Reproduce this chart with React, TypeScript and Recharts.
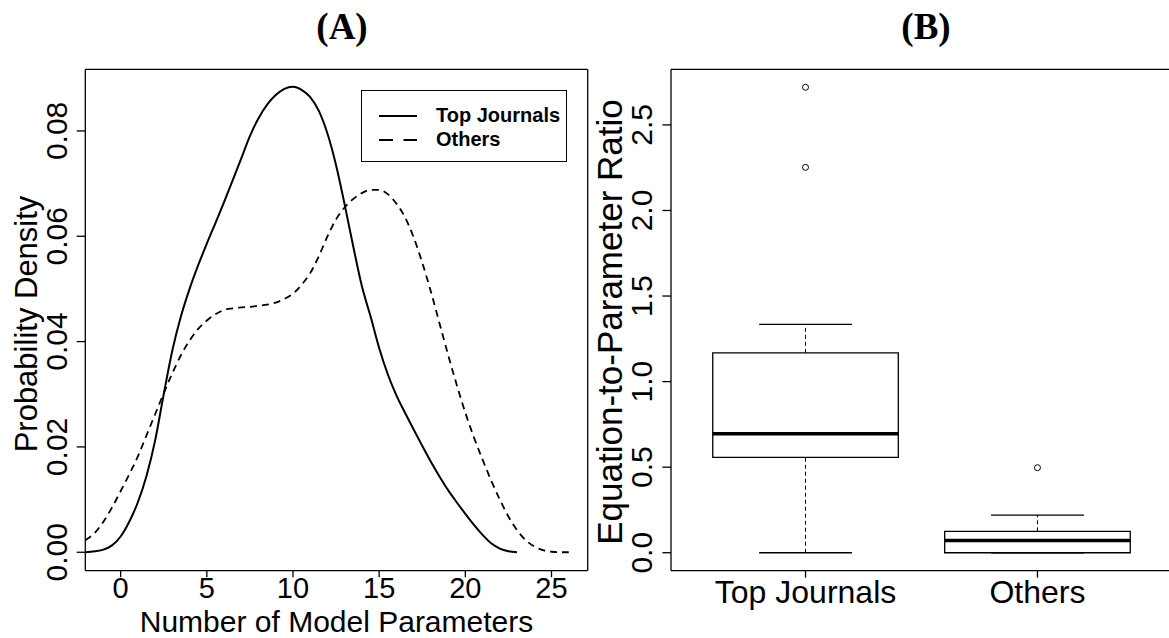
import React from "react";
import {
  ComposedChart,
  LineChart,
  Line,
  XAxis,
  YAxis,
  Legend,
  Label,
  ReferenceArea,
  ReferenceLine,
  Scatter,
} from "recharts";

const SANS = "'Liberation Sans', Arial, Helvetica, sans-serif";
const SERIF = "'Liberation Serif', 'Times New Roman', serif";

// (A) density curves on a 0.5 grid
const paramGrid = [
  -2.05, -1.5, -1, -0.5, 0, 0.5, 1, 1.5, 2, 2.5, 3, 3.5, 4, 4.5, 5, 5.5, 6, 6.5,
  7, 7.5, 8, 8.5, 9, 9.5, 10, 10.5, 11, 11.5, 12, 12.5, 13, 13.5, 14, 14.5, 15,
  15.5, 16, 16.5, 17, 17.5, 18, 18.5, 19, 19.5, 20, 20.5, 21, 21.5, 22, 22.5, 23,
  23.5, 24, 24.5, 25, 25.5, 26,
];
const topJournalsDensity = [
  0, 0.0002, 0.0005, 0.0013, 0.003, 0.0058, 0.0095, 0.0145, 0.0212, 0.03, 0.0383,
  0.0448, 0.05, 0.0545, 0.0586, 0.0625, 0.0665, 0.0706, 0.0748, 0.079, 0.0824,
  0.085, 0.0868, 0.088, 0.0884, 0.0878, 0.0864, 0.0838, 0.0795, 0.0735, 0.066,
  0.058, 0.0505, 0.0448, 0.0388, 0.0338, 0.0298, 0.0265, 0.0233, 0.0202, 0.0172,
  0.0144, 0.0118, 0.0095, 0.0073, 0.0052, 0.0033, 0.0017, 0.0007, 0.0002, 0,
  null, null, null, null, null, null,
];
const othersDensity = [
  0.0023, 0.0037, 0.0058, 0.0085, 0.0116, 0.0148, 0.0182, 0.0222, 0.0262, 0.0302,
  0.034, 0.0374, 0.0402, 0.0424, 0.044, 0.0452, 0.046, 0.0463, 0.0465, 0.0466,
  0.0468, 0.047, 0.0474, 0.0481, 0.0491, 0.0508, 0.053, 0.0562, 0.06, 0.0632,
  0.0655, 0.0671, 0.0682, 0.0688, 0.0688, 0.068, 0.0662, 0.0636, 0.0598, 0.055,
  0.0495, 0.0435, 0.0375, 0.0318, 0.0265, 0.0218, 0.0176, 0.0136, 0.01, 0.0068,
  0.0042, 0.0023, 0.0011, 0.0004, 0.0001, 0, 0,
];
const seriesNames = ["Top Journals", "Others"];
const paramTicks = [0, 5, 10, 15, 20, 25];
const densityTicks = [0, 0.02, 0.04, 0.06, 0.08];

// (B) box plot summaries
const groups = ["Top Journals", "Others"];
const whiskerLow = [0, 0];
const quartile1 = [0.557, 0];
const medians = [0.695, 0.071];
const quartile3 = [1.168, 0.125];
const whiskerHigh = [1.334, 0.22];
const outliers = [[2.252, 2.72], [0.497]];
const groupTicks = [1, 2];
const ratioTicks = [0, 0.5, 1, 1.5, 2, 2.5];

const densityRows = paramGrid.map((x, i) => ({
  x,
  top: topJournalsDensity[i],
  others: othersDensity[i],
}));
const outlierPoints = groups.flatMap((_, i) =>
  outliers[i].map((v) => ({ x: i + 1, y: v }))
);

const DASH = "7 5";
const LEGEND_DASH = "14 10.5";
const AXIS_LINE = { stroke: "#000", strokeWidth: 1.3 };
const X_DOMAIN_A: [number, number] = [-2.05, 27.1];
const Y_DOMAIN_A: [number, number] = [-0.0035, 0.0917];
const X_DOMAIN_B: [number, number] = [0.42, 2.58];
const Y_DOMAIN_B: [number, number] = [-0.105, 2.825];

function rotatedTick(digits: number) {
  return (props: any) => {
    const tx = props.x - 10;
    return (
      <text
        x={tx}
        y={props.y}
        transform={`rotate(-90 ${tx} ${props.y})`}
        textAnchor="middle"
        fontSize={30}
        fontFamily={SANS}
        fill="#000"
      >
        {Number(props.payload.value).toFixed(digits)}
      </text>
    );
  };
}

function VerticalTitle({ x, y, text, size }: { x: number; y: number; text: string; size: number }) {
  return (
    <text
      x={x}
      y={y}
      transform={`rotate(-90 ${x} ${y})`}
      textAnchor="middle"
      fontFamily={SANS}
      fontSize={size}
      fill="#000"
    >
      {text}
    </text>
  );
}

function PanelTitle({ x, text }: { x: number; text: string }) {
  return (
    <text x={x} y={39} textAnchor="middle" fontFamily={SERIF} fontWeight="bold" fontSize={37} fill="#000">
      {text}
    </text>
  );
}

function DensityLegend() {
  return (
    <div
      style={{
        width: 206,
        height: 72,
        boxSizing: "border-box",
        border: "1.3px solid #000",
        background: "#fff",
        paddingTop: 13,
        paddingLeft: 17,
      }}
    >
      {seriesNames.map((name, i) => (
        <div key={name} style={{ display: "flex", alignItems: "center", height: 24 }}>
          <svg width={38} height={4}>
            <line
              x1={0}
              y1={2}
              x2={38}
              y2={2}
              stroke="#000"
              strokeWidth={2}
              strokeDasharray={i === 0 ? undefined : LEGEND_DASH}
            />
          </svg>
          <span
            style={{
              marginLeft: 19,
              fontFamily: SANS,
              fontWeight: "bold",
              fontSize: 20,
              color: "#000",
            }}
          >
            {name}
          </span>
        </div>
      ))}
    </div>
  );
}

export default function App() {
  return (
    <div
      style={{
        position: "absolute",
        left: 0,
        top: 0,
        width: 1169,
        height: 638,
        overflow: "hidden",
        background: "#fff",
      }}
    >
      <div style={{ position: "absolute", left: 0, top: 0 }}>
        <LineChart
          width={600}
          height={638}
          data={densityRows}
          margin={{ top: 69.3, right: 12.3, left: 0, bottom: 0 }}
        >
          <XAxis
            dataKey="x"
            type="number"
            domain={X_DOMAIN_A}
            allowDataOverflow
            ticks={paramTicks}
            interval={0}
            height={67.3}
            tickSize={6.5}
            tickMargin={0}
            axisLine={AXIS_LINE}
            tickLine={AXIS_LINE}
            tick={{ fill: "#000", fontSize: 29, fontFamily: SANS }}
          >
            <Label
              content={() => (
                <text x={336.5} y={631.5} textAnchor="middle" fontFamily={SANS} fontSize={30} fill="#000">
                  Number of Model Parameters
                </text>
              )}
            />
            <Label content={() => <PanelTitle x={342} text="(A)" />} />
          </XAxis>
          <XAxis
            xAxisId="top"
            orientation="top"
            dataKey="x"
            type="number"
            domain={X_DOMAIN_A}
            allowDataOverflow
            ticks={paramTicks}
            interval={0}
            mirror
            tick={false}
            tickSize={8}
            axisLine={AXIS_LINE}
            tickLine={AXIS_LINE}
          />
          <YAxis
            type="number"
            domain={Y_DOMAIN_A}
            allowDataOverflow
            ticks={densityTicks}
            interval={0}
            width={85.3}
            tickSize={8.6}
            tickMargin={0}
            axisLine={AXIS_LINE}
            tickLine={AXIS_LINE}
            tick={rotatedTick(2)}
          >
            <Label content={() => <VerticalTitle x={37} y={324} text="Probability Density" size={31} />} />
          </YAxis>
          <YAxis
            yAxisId="right"
            orientation="right"
            type="number"
            domain={Y_DOMAIN_A}
            allowDataOverflow
            ticks={densityTicks}
            interval={0}
            mirror
            tick={false}
            tickSize={8}
            axisLine={AXIS_LINE}
            tickLine={AXIS_LINE}
          />
          <Line
            dataKey="top"
            name={seriesNames[0]}
            type="monotone"
            stroke="#000"
            strokeWidth={2}
            dot={false}
            isAnimationActive={false}
          />
          <Line
            dataKey="others"
            name={seriesNames[1]}
            type="monotone"
            stroke="#000"
            strokeWidth={1.8}
            strokeDasharray={DASH}
            dot={false}
            isAnimationActive={false}
          />
          <Legend
            layout="horizontal"
            align="center"
            verticalAlign="middle"
            content={() => <DensityLegend />}
            wrapperStyle={{ left: 361, top: 89.5, width: 206, height: 72 }}
          />
        </LineChart>
      </div>

      <div style={{ position: "absolute", left: 560, top: 0 }}>
        <ComposedChart
          width={620}
          height={638}
          margin={{ top: 69.3, right: 8, left: 0, bottom: 0 }}
        >
          <XAxis
            dataKey="x"
            type="number"
            domain={X_DOMAIN_B}
            allowDataOverflow
            ticks={groupTicks}
            interval={0}
            tickFormatter={(v) => groups[v - 1]}
            height={67.3}
            tickSize={7}
            tickMargin={3}
            axisLine={AXIS_LINE}
            tickLine={AXIS_LINE}
            tick={{ fill: "#000", fontSize: 32, fontFamily: SANS }}
          >
            <Label content={() => <PanelTitle x={366} text="(B)" />} />
          </XAxis>
          <XAxis
            xAxisId="top"
            orientation="top"
            dataKey="x"
            type="number"
            domain={X_DOMAIN_B}
            allowDataOverflow
            ticks={groupTicks}
            interval={0}
            mirror
            tick={false}
            tickSize={8}
            axisLine={AXIS_LINE}
            tickLine={AXIS_LINE}
          />
          <YAxis
            dataKey="y"
            type="number"
            domain={Y_DOMAIN_B}
            allowDataOverflow
            ticks={ratioTicks}
            interval={0}
            width={111}
            tickSize={8.6}
            tickMargin={0}
            axisLine={AXIS_LINE}
            tickLine={AXIS_LINE}
            tick={rotatedTick(1)}
          >
            <Label
              content={() => (
                <VerticalTitle x={61.7} y={322} text="Equation-to-Parameter Ratio" size={35} />
              )}
            />
          </YAxis>
          <YAxis
            yAxisId="right"
            orientation="right"
            type="number"
            domain={Y_DOMAIN_B}
            allowDataOverflow
            ticks={ratioTicks}
            interval={0}
            mirror
            tick={false}
            tickSize={8}
            axisLine={AXIS_LINE}
            tickLine={AXIS_LINE}
          />
          {groups.map((g, i) => {
            const c = i + 1;
            return (
              <React.Fragment key={g}>
                <ReferenceLine
                  segment={[{ x: c, y: quartile3[i] }, { x: c, y: whiskerHigh[i] }]}
                  stroke="#000"
                  strokeWidth={1}
                  strokeDasharray="4 3"
                />
                <ReferenceLine
                  segment={[{ x: c, y: whiskerLow[i] }, { x: c, y: quartile1[i] }]}
                  stroke="#000"
                  strokeWidth={1}
                  strokeDasharray="4 3"
                />
                <ReferenceLine
                  segment={[{ x: c - 0.2, y: whiskerHigh[i] }, { x: c + 0.2, y: whiskerHigh[i] }]}
                  stroke="#000"
                  strokeWidth={1.3}
                />
                <ReferenceLine
                  segment={[{ x: c - 0.2, y: whiskerLow[i] }, { x: c + 0.2, y: whiskerLow[i] }]}
                  stroke="#000"
                  strokeWidth={1.3}
                />
                <ReferenceArea
                  x1={c - 0.4}
                  x2={c + 0.4}
                  y1={quartile1[i]}
                  y2={quartile3[i]}
                  fill="#fff"
                  fillOpacity={1}
                  stroke="#000"
                  strokeWidth={1.3}
                />
                <ReferenceLine
                  segment={[{ x: c - 0.4, y: medians[i] }, { x: c + 0.4, y: medians[i] }]}
                  stroke="#000"
                  strokeWidth={3.5}
                />
              </React.Fragment>
            );
          })}
          <Scatter
            data={outlierPoints}
            dataKey="y"
            isAnimationActive={false}
            shape={(p: any) => (
              <circle cx={p.cx} cy={p.cy} r={3} fill="#fff" stroke="#000" strokeWidth={1} />
            )}
          />
        </ComposedChart>
      </div>
    </div>
  );
}
